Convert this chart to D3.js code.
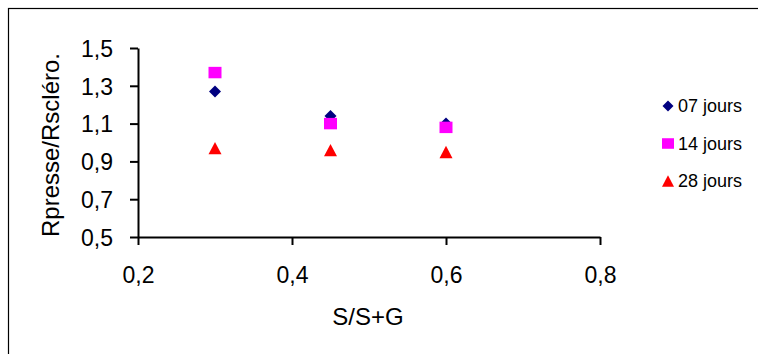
<!DOCTYPE html>
<html>
<head>
<meta charset="utf-8">
<script src="https://cdn.jsdelivr.net/npm/d3@7"></script>
<style>
  body { margin: 0; background: #fff; }
  text { font-family: "Liberation Sans", Arial, sans-serif; }
</style>
</head>
<body>
<svg class="canvas" width="758" height="354"></svg>
<script>
const ratios = [0.3, 0.45, 0.6];
const days07 = [1.27, 1.14, 1.10];
const days14 = [1.37, 1.10, 1.08];
const days28 = [0.97, 0.96, 0.95];
const seriesNames = ["07 jours", "14 jours", "28 jours"];
const xTicks = [0.2, 0.4, 0.6, 0.8];
const yTicks = [0.5, 0.7, 0.9, 1.1, 1.3, 1.5];

// excel-like markers, size = width in px
const diamond = {
  draw(ctx, w) {
    const h = w / 2;
    ctx.moveTo(0, -h); ctx.lineTo(h, 0); ctx.lineTo(0, h); ctx.lineTo(-h, 0); ctx.closePath();
  }
};
const square = {
  draw(ctx, w) {
    const h = w / 2;
    ctx.rect(-h, -h * 0.88, w, w * 0.88);
  }
};
const triangle = {
  draw(ctx, w) {
    const h = w / 2;
    ctx.moveTo(0, -h * 0.95); ctx.lineTo(h, h * 0.95); ctx.lineTo(-h, h * 0.95); ctx.closePath();
  }
};

const series = [
  { name: seriesNames[0], values: days07, shape: diamond, size: 12, color: "#000080" },
  { name: seriesNames[1], values: days14, shape: square, size: 13, color: "#ff00ff" },
  { name: seriesNames[2], values: days28, shape: triangle, size: 13, color: "#ff0000" }
];

const svg = d3.select(".canvas");

// outer frame (cut off at right and bottom like the original)
svg.append("rect")
  .attr("x", 8.5).attr("y", 8.5)
  .attr("width", 800).attr("height", 400)
  .attr("fill", "none").attr("stroke", "#000").attr("stroke-width", 1.2);

const x = d3.scaleLinear().domain([0.2, 0.8]).range([138, 600]);
const y = d3.scaleLinear().domain([0.5, 1.5]).range([237, 48]);
const fmt = d => d3.format(".1f")(d).replace(".", ",");

const xAxis = svg.append("g")
  .attr("transform", "translate(0,237)")
  .call(d3.axisBottom(x).tickValues(xTicks).tickFormat(fmt).tickSize(8).tickSizeOuter(0).tickPadding(22));

const yAxis = svg.append("g")
  .attr("transform", "translate(138,0)")
  .call(d3.axisLeft(y).tickValues(yTicks).tickFormat(fmt).tickSize(8).tickSizeOuter(0).tickPadding(17));

[xAxis, yAxis].forEach(g => {
  g.select(".domain").attr("stroke", "#000").attr("stroke-width", 2);
  g.selectAll(".tick line").attr("stroke", "#000").attr("stroke-width", 2);
  g.selectAll(".tick text")
    .attr("fill", "#000")
    .style("font-family", "'Liberation Sans', Arial, sans-serif")
    .style("font-size", "23px");
});
yAxis.selectAll(".tick text").attr("dy", "0.36em");

svg.append("text")
  .attr("x", 368).attr("y", 325)
  .attr("text-anchor", "middle")
  .style("font-size", "24px")
  .text("S/S+G");

svg.append("text")
  .attr("transform", "translate(59,145) rotate(-90)")
  .attr("text-anchor", "middle")
  .style("font-size", "24px")
  .text("Rpresse/Rscléro.");

// points
series.forEach(s => {
  svg.append("g")
    .selectAll("path")
    .data(s.values)
    .enter()
    .append("path")
    .attr("d", d3.symbol().type(s.shape).size(s.size))
    .attr("transform", (d, i) => `translate(${x(ratios[i])},${y(d)})`)
    .attr("fill", s.color);
});

// legend
const legend = svg.append("g")
  .selectAll("g")
  .data(series)
  .enter()
  .append("g")
  .attr("transform", (d, i) => `translate(668,${106 + i * 37.5})`);

legend.append("path")
  .attr("d", d => d3.symbol().type(d.shape).size(d.size - 1)())
  .attr("fill", d => d.color);

legend.append("text")
  .attr("x", 10).attr("dy", "0.36em")
  .style("font-size", "18px")
  .text(d => d.name);
</script>
</body>
</html>
